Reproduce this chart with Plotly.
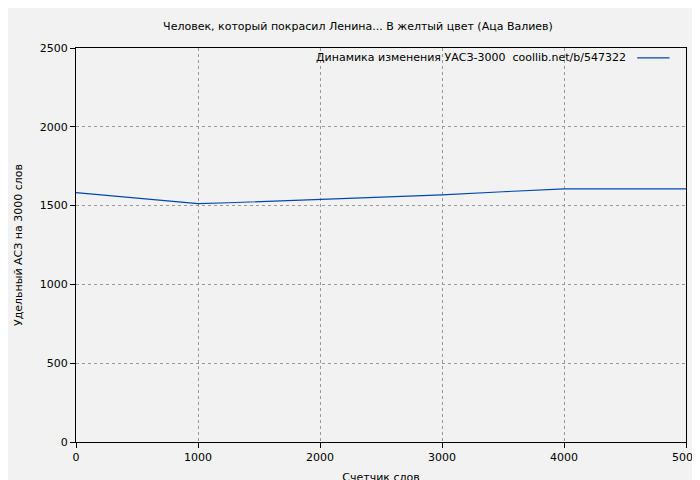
import plotly.graph_objects as go

words = [0, 250, 500, 750, 1000, 1250, 1500, 1750, 2000, 2500, 3000, 3500, 4000, 4500, 5000]
uas = [1582, 1565, 1545, 1528, 1512, 1518, 1525, 1534, 1542, 1555, 1568, 1588, 1606, 1606, 1606]
legend_text = "Динамика изменения УАСЗ-3000  coollib.net/b/547322"

fig = go.Figure()
fig.add_trace(go.Scatter(x=words, y=uas, mode="lines", line=dict(color="#0047b3", width=1.2),
                         showlegend=False))

axis = dict(showline=True, linecolor="black", mirror=True, ticks="outside", tickcolor="black",
            ticklen=5, showgrid=True, gridcolor="#999999", griddash="dot", gridwidth=1,
            zeroline=False, automargin=False, tickfont=dict(size=11))
fig.update_layout(
    width=700, height=480, paper_bgcolor="#f2f2f2", plot_bgcolor="#f2f2f2",
    font=dict(family="DejaVu Sans", size=11, color="black"),
    margin=dict(l=68, r=22, t=40, b=46),
    title=dict(text="Человек, который покрасил Ленина... В желтый цвет (Аца Валиев)",
               x=0.5, y=0.97, xanchor="center", font=dict(size=11)),
    xaxis=dict(axis, range=[0, 5000], dtick=1000,
               title=dict(text="Счетчик слов", standoff=10, font=dict(size=11))),
    yaxis=dict(axis, range=[0, 2500], dtick=500,
               title=dict(text="Удельный АСЗ на 3000 слов", standoff=14, font=dict(size=11))),
)
# legend drawn as text followed by the sample line, as in the reference
fig.add_annotation(x=0.905, y=0.975, xref="paper", yref="paper", xanchor="right", yanchor="middle",
                   text=legend_text, showarrow=False, font=dict(size=11))
fig.add_shape(type="line", xref="paper", yref="paper", x0=0.92, x1=0.973, y0=0.975, y1=0.975,
              line=dict(color="#0047b3", width=1.2))
fig.write_html("out.html")
